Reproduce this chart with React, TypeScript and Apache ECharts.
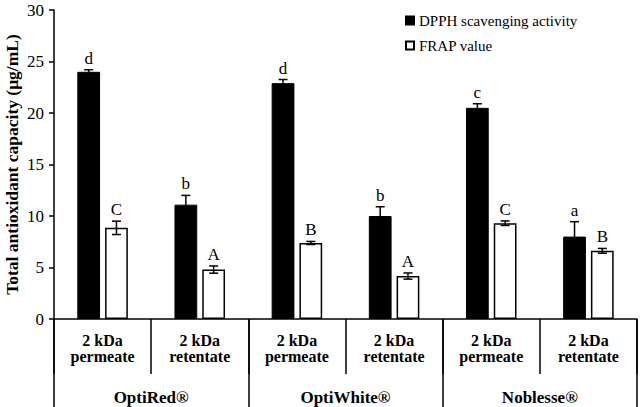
import React, { useEffect, useRef } from "react";
import * as echarts from "echarts";

const categories = [
  "2 kDa\npermeate",
  "2 kDa\nretentate",
  "2 kDa\npermeate",
  "2 kDa\nretentate",
  "2 kDa\npermeate",
  "2 kDa\nretentate",
];
const groups = ["OptiRed®", "OptiWhite®", "Noblesse®"];
const dpph = [24.0, 11.1, 22.9, 10.0, 20.5, 8.0];
const dpphErr = [0.2, 0.9, 0.35, 0.9, 0.4, 1.45];
const frap = [8.85, 4.8, 7.38, 4.17, 9.3, 6.62];
const frapErr = [0.65, 0.35, 0.15, 0.3, 0.22, 0.23];
const dpphLetters = ["d", "b", "d", "b", "c", "a"];
const frapLetters = ["C", "A", "B", "A", "C", "B"];
const yTicks = { min: 0, max: 30, interval: 5 };

const FONT = '"Liberation Serif", "Times New Roman", serif';
const CAT_GAP = 0.48;
const BAR_GAP = 0.22;

function errSeries(name: string, k: number, vals: number[], errs: number[], letters: string[]) {
  return {
    type: "custom",
    name: name + " err",
    z: 5,
    silent: true,
    data: vals.map((v, i) => [i, v, errs[i]]),
    renderItem: (params: any, api: any) => {
      const i = api.value(0);
      const v = api.value(1);
      const e = api.value(2);
      const c = api.coord([i, v]);
      const catW = api.size([1, 0])[0];
      const w = (catW * (1 - CAT_GAP)) / (2 + BAR_GAP);
      const off = ((k === 0 ? -1 : 1) * w * (1 + BAR_GAP)) / 2;
      const x = c[0] + off;
      const top = api.coord([i, v + e])[1];
      const bot = api.coord([i, v - e])[1];
      const cap = 4.5;
      const ls = { stroke: "#000", lineWidth: 1.5 };
      return {
        type: "group",
        children: [
          { type: "line", shape: { x1: x, y1: top, x2: x, y2: bot }, style: ls },
          { type: "line", shape: { x1: x - cap, y1: top, x2: x + cap, y2: top }, style: ls },
          { type: "line", shape: { x1: x - cap, y1: bot, x2: x + cap, y2: bot }, style: ls },
          {
            type: "text",
            style: {
              text: letters[params.dataIndex],
              x: x,
              y: top - 3,
              align: "center",
              verticalAlign: "bottom",
              textAlign: "center",
              textVerticalAlign: "bottom",
              font: "17px " + FONT,
              fill: "#000",
            },
          },
        ],
      };
    },
  };
}

export default function App() {
  const ref = useRef<HTMLDivElement>(null);
  useEffect(() => {
    if (!ref.current) return;
    const chart = echarts.init(ref.current, null, { renderer: "svg" });
    chart.setOption({
      animation: false,
      backgroundColor: "#fff",
      textStyle: { fontFamily: FONT },
      grid: {
        left: 54,
        right: 3,
        top: 10,
        bottom: 88,
        containLabel: false,
        outerBoundsMode: "none",
      },
      legend: {
        orient: "vertical",
        left: 405,
        top: 13,
        padding: 0,
        itemWidth: 8,
        itemHeight: 8,
        itemGap: 10,
        textStyle: { fontFamily: FONT, fontSize: 15, color: "#000" },
        data: [
          { name: "DPPH scavenging activity", icon: "rect" },
          { name: "FRAP value", icon: "rect" },
        ],
      },
      xAxis: [
        {
          type: "category",
          data: categories,
          position: "bottom",
          axisLine: { show: true, lineStyle: { color: "#000", width: 1.5 } },
          axisTick: { show: true, interval: 0, length: 55, lineStyle: { color: "#000", width: 1.5 } },
          axisLabel: {
            interval: 0,
            margin: 13,
            fontFamily: FONT,
            fontSize: 16,
            fontWeight: "bold",
            color: "#000",
            lineHeight: 16,
          },
        },
        {
          type: "category",
          data: groups,
          position: "bottom",
          offset: 0,
          axisLine: { show: false },
          axisTick: { show: true, interval: 0, length: 90, lineStyle: { color: "#000", width: 1.5 } },
          axisLabel: {
            interval: 0,
            margin: 69,
            fontFamily: FONT,
            fontSize: 17,
            fontWeight: "bold",
            color: "#000",
            lineHeight: 18,
          },
        },
      ],
      yAxis: {
        type: "value",
        min: yTicks.min,
        max: yTicks.max,
        interval: yTicks.interval,
        name: "Total antioxidant capacity (μg/mL)",
        nameLocation: "middle",
        nameGap: 33,
        nameMoveOverlap: false,
        nameTextStyle: { fontFamily: FONT, fontSize: 17.5, fontWeight: "bold", color: "#000" },
        axisLine: { show: true, lineStyle: { color: "#000", width: 1.5 } },
        axisTick: { show: true, length: 5, lineStyle: { color: "#000", width: 1.5 } },
        axisLabel: { margin: 10, fontFamily: FONT, fontSize: 17, color: "#000" },
        splitLine: { show: false },
      },
      series: [
        {
          type: "bar",
          name: "DPPH scavenging activity",
          data: dpph,
          barCategoryGap: CAT_GAP * 100 + "%",
          barGap: BAR_GAP * 100 + "%",
          itemStyle: { color: "#000", borderColor: "#000", borderWidth: 1 },
        },
        {
          type: "bar",
          name: "FRAP value",
          data: frap,
          barCategoryGap: CAT_GAP * 100 + "%",
          barGap: BAR_GAP * 100 + "%",
          itemStyle: { color: "#fff", borderColor: "#000", borderWidth: 1.5 },
        },
        errSeries("DPPH", 0, dpph, dpphErr, dpphLetters),
        errSeries("FRAP", 1, frap, frapErr, frapLetters),
      ],
    });
    return () => chart.dispose();
  }, []);
  return (
    <div
      ref={ref}
      style={{ position: "absolute", left: 0, top: 0, width: 640, height: 407 }}
    />
  );
}
